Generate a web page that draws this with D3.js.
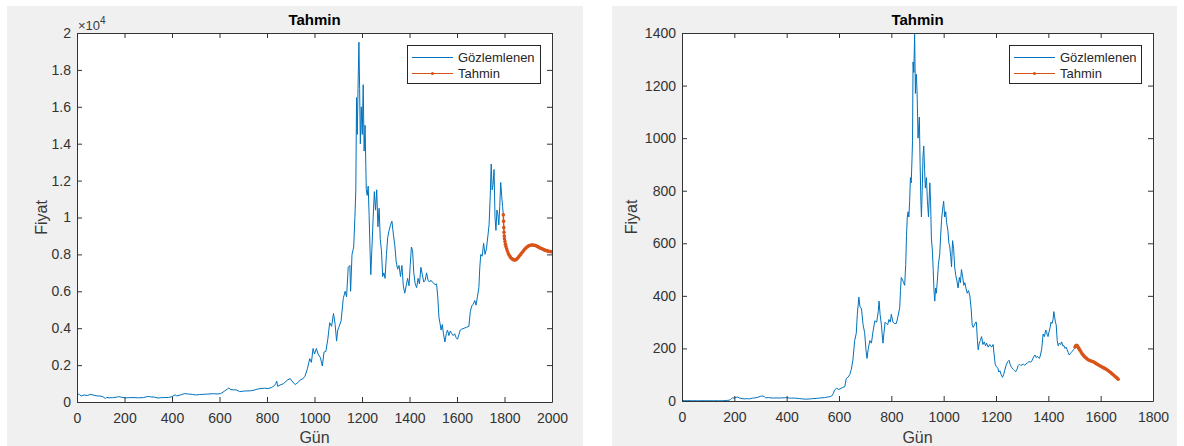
<!DOCTYPE html>
<html>
<head>
<meta charset="utf-8">
<script src="https://cdn.jsdelivr.net/npm/d3@7"></script>
<style>
  body { margin: 0; background: #ffffff; }
  svg { display: block; font-family: "Liberation Sans", Arial, sans-serif; }
  .tick text { fill: #333333; font-size: 14px; }
</style>
</head>
<body>
<div id="chart"></div>
<script>
// sol grafik: gözlemlenen fiyat (gün, fiyat)
const btcDay = [0, 10, 18, 30, 45, 56, 70, 85, 100, 110, 119, 125, 135, 150, 165, 176, 190, 205, 220, 240, 260, 280, 298, 310, 325, 341, 355, 370, 385, 400, 413, 420, 435, 454, 470, 485, 500, 515, 530, 545, 560, 575, 590, 605, 620, 633, 639, 648, 660, 672, 685, 700, 715, 730, 745, 760, 775, 790, 805, 820, 832, 837, 841, 845, 855, 870, 885, 898, 910, 919, 930, 940, 950, 960, 970, 980, 987, 994, 1000, 1008, 1015, 1025, 1033, 1040, 1048, 1056, 1064, 1072, 1080, 1087, 1093, 1098, 1104, 1112, 1121, 1129, 1135, 1142, 1149, 1152, 1158, 1165, 1170, 1174, 1177, 1180, 1184, 1187, 1190, 1193, 1197, 1201, 1205, 1209, 1213, 1218, 1222, 1226, 1230, 1234, 1237, 1242, 1247, 1252, 1257, 1262, 1267, 1272, 1277, 1282, 1287, 1292, 1297, 1303, 1308, 1314, 1320, 1326, 1332, 1338, 1344, 1350, 1356, 1362, 1368, 1374, 1380, 1386, 1392, 1398, 1403, 1408, 1413, 1418, 1424, 1430, 1436, 1442, 1448, 1454, 1460, 1466, 1472, 1478, 1484, 1490, 1496, 1502, 1508, 1514, 1519, 1524, 1528, 1533, 1538, 1543, 1549, 1555, 1560, 1566, 1572, 1578, 1584, 1590, 1596, 1602, 1608, 1614, 1620, 1630, 1640, 1650, 1656, 1662, 1668, 1675, 1680, 1686, 1692, 1696, 1700, 1706, 1712, 1718, 1724, 1730, 1735, 1740, 1744, 1748, 1752, 1756, 1760, 1764, 1768, 1772, 1776, 1780, 1784, 1788, 1792, 1795];
const btcPrice = [457, 400, 330, 380, 350, 420, 370, 330, 320, 280, 190, 250, 230, 235, 260, 290, 250, 225, 235, 240, 225, 240, 300, 280, 265, 215, 235, 240, 245, 290, 390, 330, 380, 455, 430, 415, 380, 400, 415, 425, 440, 450, 435, 455, 580, 700, 760, 670, 660, 650, 560, 590, 600, 605, 640, 700, 730, 750, 730, 790, 900, 1000, 1130, 850, 920, 1000, 1180, 1270, 1050, 950, 1050, 1200, 1250, 1400, 1800, 2350, 2150, 2900, 2600, 2900, 2600, 2400, 1950, 2700, 2750, 3400, 4300, 4100, 4800, 4200, 3300, 3900, 4100, 4400, 5600, 6000, 5700, 7300, 7400, 6000, 8000, 8400, 10000, 11500, 16500, 14500, 17500, 19500, 17000, 14000, 16000, 14500, 17200, 13600, 15000, 11500, 11200, 11700, 10100, 8200, 6900, 8400, 10000, 11400, 10400, 11500, 9500, 10500, 8800, 8200, 6800, 7000, 6700, 8000, 8900, 9300, 9600, 9800, 9100, 8500, 7600, 7200, 7400, 6800, 7400, 6300, 5900, 6300, 6700, 6300, 7400, 8400, 8200, 7000, 6400, 6200, 6700, 6400, 7300, 6900, 6500, 6600, 7000, 6600, 6500, 6600, 6500, 6450, 6350, 6400, 5700, 4600, 4300, 3900, 4200, 3700, 3250, 3700, 3900, 3600, 3850, 3700, 3600, 3700, 3500, 3400, 3650, 3900, 3950, 4000, 4050, 4100, 4900, 5200, 5300, 5500, 5250, 5700, 6200, 7300, 8000, 7900, 8600, 8000, 8300, 9000, 9600, 11200, 12900, 11500, 11800, 12600, 10000, 9300, 10400, 10200, 9600, 10600, 11900, 11200, 10600, 10150];

// sol grafik: tahmin
const btcFcDay = [1795, 1796, 1797, 1798, 1799, 1800, 1802, 1804, 1806, 1809, 1812, 1816, 1820, 1825, 1830, 1835, 1840, 1845, 1850, 1855, 1860, 1865, 1870, 1875, 1880, 1885, 1890, 1895, 1900, 1905, 1910, 1915, 1920, 1925, 1930, 1935, 1940, 1945, 1950, 1955, 1960, 1965, 1970, 1975, 1980, 1985, 1990, 1995, 2000];
const btcFcPrice = [10150, 9800, 9450, 9200, 9000, 8850, 8700, 8550, 8430, 8300, 8180, 8050, 7950, 7850, 7780, 7730, 7700, 7700, 7730, 7790, 7870, 7950, 8030, 8120, 8200, 8280, 8350, 8400, 8450, 8480, 8500, 8510, 8510, 8500, 8480, 8450, 8420, 8390, 8350, 8320, 8290, 8260, 8230, 8210, 8190, 8170, 8160, 8150, 8140];

// sag grafik: gözlemlenen fiyat
const ethDay = [0, 10, 20, 40, 60, 80, 100, 120, 140, 150, 160, 170, 180, 186, 190, 194, 200, 207, 213, 220, 230, 240, 250, 258, 270, 280, 290, 300, 309, 315, 320, 330, 340, 350, 360, 370, 380, 390, 400, 411, 420, 430, 440, 450, 460, 475, 490, 500, 513, 525, 535, 545, 555, 564, 572, 578, 583, 590, 600, 608, 615, 622, 628, 634, 641, 647, 653, 660, 666, 670, 676, 680, 686, 692, 698, 703, 707, 712, 718, 724, 730, 737, 744, 750, 753, 757, 762, 768, 772, 776, 781, 786, 791, 796, 800, 806, 812, 819, 825, 832, 835, 838, 843, 847, 851, 855, 858, 861, 864, 867, 870, 873, 876, 879, 881, 883, 886, 889, 892, 894, 896, 899, 902, 904, 907, 910, 913, 915, 918, 921, 924, 927, 930, 934, 938, 942, 947, 950, 953, 957, 960, 963, 966, 969, 972, 976, 980, 985, 988, 992, 996, 1000, 1004, 1008, 1011, 1016, 1020, 1023, 1027, 1030, 1034, 1038, 1042, 1046, 1050, 1055, 1060, 1064, 1068, 1073, 1077, 1081, 1085, 1090, 1095, 1100, 1105, 1109, 1113, 1118, 1122, 1125, 1129, 1132, 1136, 1140, 1145, 1150, 1155, 1160, 1164, 1170, 1176, 1183, 1189, 1193, 1197, 1202, 1207, 1211, 1215, 1220, 1225, 1229, 1233, 1237, 1240, 1245, 1250, 1254, 1258, 1262, 1266, 1271, 1276, 1280, 1285, 1290, 1295, 1300, 1305, 1310, 1315, 1320, 1326, 1331, 1336, 1340, 1345, 1349, 1354, 1358, 1362, 1366, 1370, 1375, 1380, 1385, 1390, 1393, 1396, 1399, 1403, 1407, 1410, 1414, 1418, 1421, 1424, 1427, 1430, 1434, 1438, 1442, 1447, 1451, 1455, 1460, 1464, 1468, 1472, 1476, 1480, 1484, 1488, 1492, 1496, 1500, 1502];
const ethPrice = [3, 1.5, 1.3, 1, 0.9, 1, 0.9, 0.95, 0.95, 1, 1.2, 2, 3, 6, 10, 12, 11, 14, 15, 11, 9, 8, 9, 8, 11, 12, 14, 18, 19, 16, 12, 13, 12, 11, 12, 11, 12, 12, 13, 11, 11, 11, 10, 9, 8, 7, 8, 9, 10, 11, 12, 13, 15, 16, 19, 28, 42, 48, 44, 48, 52, 54, 86, 90, 100, 120, 155, 230, 258, 330, 395, 360, 350, 290, 260, 195, 162, 200, 230, 220, 265, 305, 300, 340, 380, 330, 290, 220, 260, 300, 295, 290, 310, 300, 330, 300, 295, 295, 320, 355, 420, 470, 460, 450, 440, 520, 630, 700, 720, 700, 760, 850, 830, 920, 990, 1290, 1250, 1395, 1170, 1240, 1243, 1150, 1000, 1030, 1080, 900, 760, 700, 800, 930, 970, 880, 810, 850, 760, 700, 830, 760, 620, 570, 500, 420, 380, 430, 410, 460, 520, 560, 620, 690, 730, 760, 700, 720, 680, 650, 600, 590, 550, 510, 610, 580, 510, 480, 460, 430, 470, 450, 500, 470, 440, 450, 430, 410, 420, 400, 350, 290, 280, 290, 300, 300, 230, 195, 220, 230, 245, 215, 225, 210, 220, 205, 215, 205, 215, 175, 140, 130, 125, 110, 115, 100, 90, 100, 115, 130, 140, 150, 155, 140, 130, 125, 120, 115, 112, 120, 135, 140, 135, 138, 140, 136, 142, 145, 150, 148, 150, 160, 170, 175, 165, 170, 165, 162, 175, 200, 255, 245, 270, 265, 250, 245, 265, 280, 300, 295, 310, 340, 320, 300, 290, 230, 210, 220, 215, 225, 210, 210, 200, 205, 195, 185, 175, 180, 185, 190, 195, 200, 206];

// sag grafik: tahmin
const ethFcDay = [1502, 1505, 1508, 1511, 1515, 1518, 1521, 1525, 1529, 1533, 1537, 1541, 1546, 1551, 1556, 1561, 1566, 1572, 1577, 1582, 1587, 1592, 1597, 1602, 1607, 1612, 1617, 1623, 1628, 1633, 1638, 1643, 1648, 1653, 1658, 1663, 1667];
const ethFcPrice = [205, 210, 212, 209, 203, 198, 193, 186, 180, 175, 170, 166, 162, 158, 155, 153, 151, 149, 146, 143, 140, 137, 134, 131, 128, 126, 123, 120, 116, 112, 108, 104, 100, 95, 91, 87, 83];

const leftXTicks = [0, 200, 400, 600, 800, 1000, 1200, 1400, 1600, 1800, 2000];
const leftYTicks = [0, 2000, 4000, 6000, 8000, 10000, 12000, 14000, 16000, 18000, 20000];
const rightXTicks = [0, 200, 400, 600, 800, 1000, 1200, 1400, 1600, 1800];
const rightYTicks = [0, 200, 400, 600, 800, 1000, 1200, 1400];

const seriesNames = ['Gözlemlenen', 'Tahmin'];
const BLUE = '#0072BD';
const ORANGE = '#D95319';
const AXIS = '#333333';

const svg = d3.select('#chart').append('svg')
    .attr('width', 1184)
    .attr('height', 446);

function drawPanel(cfg, idx) {
    svg.append('rect')
        .attr('x', cfg.panel[0]).attr('y', cfg.panel[1])
        .attr('width', cfg.panel[2]).attr('height', cfg.panel[3])
        .attr('fill', '#f0f0f0');

    const x = d3.scaleLinear().domain(cfg.xDomain).range([cfg.left, cfg.right]);
    const y = d3.scaleLinear().domain(cfg.yDomain).range([cfg.bottom, cfg.top]);

    svg.append('rect')
        .attr('x', cfg.left).attr('y', cfg.top)
        .attr('width', cfg.right - cfg.left).attr('height', cfg.bottom - cfg.top)
        .attr('fill', '#ffffff');

    const clipId = 'clip' + idx;
    svg.append('clipPath').attr('id', clipId)
        .append('rect')
        .attr('x', cfg.left).attr('y', cfg.top - 1)
        .attr('width', cfg.right - cfg.left).attr('height', cfg.bottom - cfg.top + 1);

    const g = svg.append('g').attr('clip-path', `url(#${clipId})`);
    const line = d3.line().x(d => x(d[0])).y(d => y(d[1]));

    const obs = d3.zip(cfg.obsDay, cfg.obsPrice);
    const fc = d3.zip(cfg.fcDay, cfg.fcPrice);

    g.append('path').datum(obs)
        .attr('d', line)
        .attr('fill', 'none')
        .attr('stroke', BLUE)
        .attr('stroke-width', 1)
        .attr('stroke-linejoin', 'round');

    g.append('path').datum(fc)
        .attr('d', line)
        .attr('fill', 'none')
        .attr('stroke', ORANGE)
        .attr('stroke-width', 1.5);

    g.selectAll('circle.fc').data(fc).join('circle')
        .attr('class', 'fc')
        .attr('cx', d => x(d[0]))
        .attr('cy', d => y(d[1]))
        .attr('r', 1.8)
        .attr('fill', ORANGE);

    // eksenler (MATLAB gibi içe dönük tikler, kutu açık)
    const bottomAxis = svg.append('g')
        .attr('transform', `translate(0,${cfg.bottom})`)
        .call(d3.axisBottom(x).tickValues(cfg.xTicks).tickSizeInner(-5).tickSizeOuter(0).tickPadding(11).tickFormat(d3.format('d')));
    const leftAxis = svg.append('g')
        .attr('transform', `translate(${cfg.left},0)`)
        .call(d3.axisLeft(y).tickValues(cfg.yTicks).tickSizeInner(-5).tickSizeOuter(0).tickPadding(6).tickFormat(cfg.yFormat));
    const topAxis = svg.append('g')
        .attr('transform', `translate(0,${cfg.top})`)
        .call(d3.axisTop(x).tickValues(cfg.xTicks).tickSizeInner(-5).tickSizeOuter(0).tickFormat(''));
    const rightAxis = svg.append('g')
        .attr('transform', `translate(${cfg.right},0)`)
        .call(d3.axisRight(y).tickValues(cfg.yTicks).tickSizeInner(-5).tickSizeOuter(0).tickFormat(''));

    [bottomAxis, leftAxis, topAxis, rightAxis].forEach(a => {
        a.select('.domain').attr('stroke', AXIS);
        a.selectAll('.tick line').attr('stroke', AXIS);
        a.selectAll('.tick text').style('font-family', '"Liberation Sans", Arial, sans-serif').style('font-size', '14px').attr('fill', '#3a3a3a');
    });

    // başlık ve etiketler
    const cx = (cfg.left + cfg.right) / 2;
    svg.append('text')
        .attr('x', cx).attr('y', 25)
        .attr('text-anchor', 'middle')
        .style('font-size', '15px').style('font-weight', 'bold')
        .attr('fill', '#000000')
        .text('Tahmin');
    svg.append('text')
        .attr('x', cx).attr('y', 443)
        .attr('text-anchor', 'middle')
        .style('font-size', '16px')
        .attr('fill', '#3a3a3a')
        .text('Gün');
    svg.append('text')
        .attr('transform', `translate(${cfg.yLabelX},${(cfg.top + cfg.bottom) / 2}) rotate(-90)`)
        .attr('text-anchor', 'middle')
        .style('font-size', '16px')
        .attr('fill', '#3a3a3a')
        .text('Fiyat');

    if (cfg.exponent) {
        const t = svg.append('text')
            .attr('x', cfg.left + 1).attr('y', 30)
            .style('font-size', '13px')
            .attr('fill', '#3a3a3a');
        t.append('tspan').text('×10');
        t.append('tspan').attr('dy', -6).style('font-size', '10px').text(cfg.exponent);
    }

    // lejant
    const lg = svg.append('g').attr('transform', `translate(${cfg.legend[0]},${cfg.legend[1]})`);
    lg.append('rect')
        .attr('x', 0.5).attr('y', 0.5)
        .attr('width', cfg.legend[2]).attr('height', cfg.legend[3])
        .attr('fill', '#ffffff')
        .attr('stroke', '#262626');
    const colors = [BLUE, ORANGE];
    seriesNames.forEach((name, i) => {
        const ly = 12.5 + i * 16;
        lg.append('line')
            .attr('x1', 5).attr('x2', 46).attr('y1', ly).attr('y2', ly)
            .attr('stroke', colors[i]).attr('stroke-width', 1);
        if (i === 1) {
            lg.append('circle').attr('cx', 25.5).attr('cy', ly).attr('r', 1.6).attr('fill', ORANGE);
        }
        lg.append('text')
            .attr('x', 51).attr('y', ly + 4.5)
            .style('font-size', '13px')
            .attr('fill', '#262626')
            .text(name);
    });
}

drawPanel({
    panel: [7, 6, 576, 440],
    left: 77, right: 552, top: 33, bottom: 402,
    xDomain: [0, 2000], yDomain: [0, 20000],
    xTicks: leftXTicks, yTicks: leftYTicks,
    yFormat: v => d3.format('~g')(v / 10000),
    exponent: '4',
    yLabelX: 47,
    legend: [407, 45, 133, 38],
    obsDay: btcDay, obsPrice: btcPrice,
    fcDay: btcFcDay, fcPrice: btcFcPrice
}, 0);

drawPanel({
    panel: [612, 6, 565, 440],
    left: 682, right: 1153, top: 33, bottom: 401,
    xDomain: [0, 1800], yDomain: [0, 1400],
    xTicks: rightXTicks, yTicks: rightYTicks,
    yFormat: d3.format('d'),
    exponent: null,
    yLabelX: 637,
    legend: [1009, 45, 132, 38],
    obsDay: ethDay, obsPrice: ethPrice,
    fcDay: ethFcDay, fcPrice: ethFcPrice
}, 1);
</script>
</body>
</html>
